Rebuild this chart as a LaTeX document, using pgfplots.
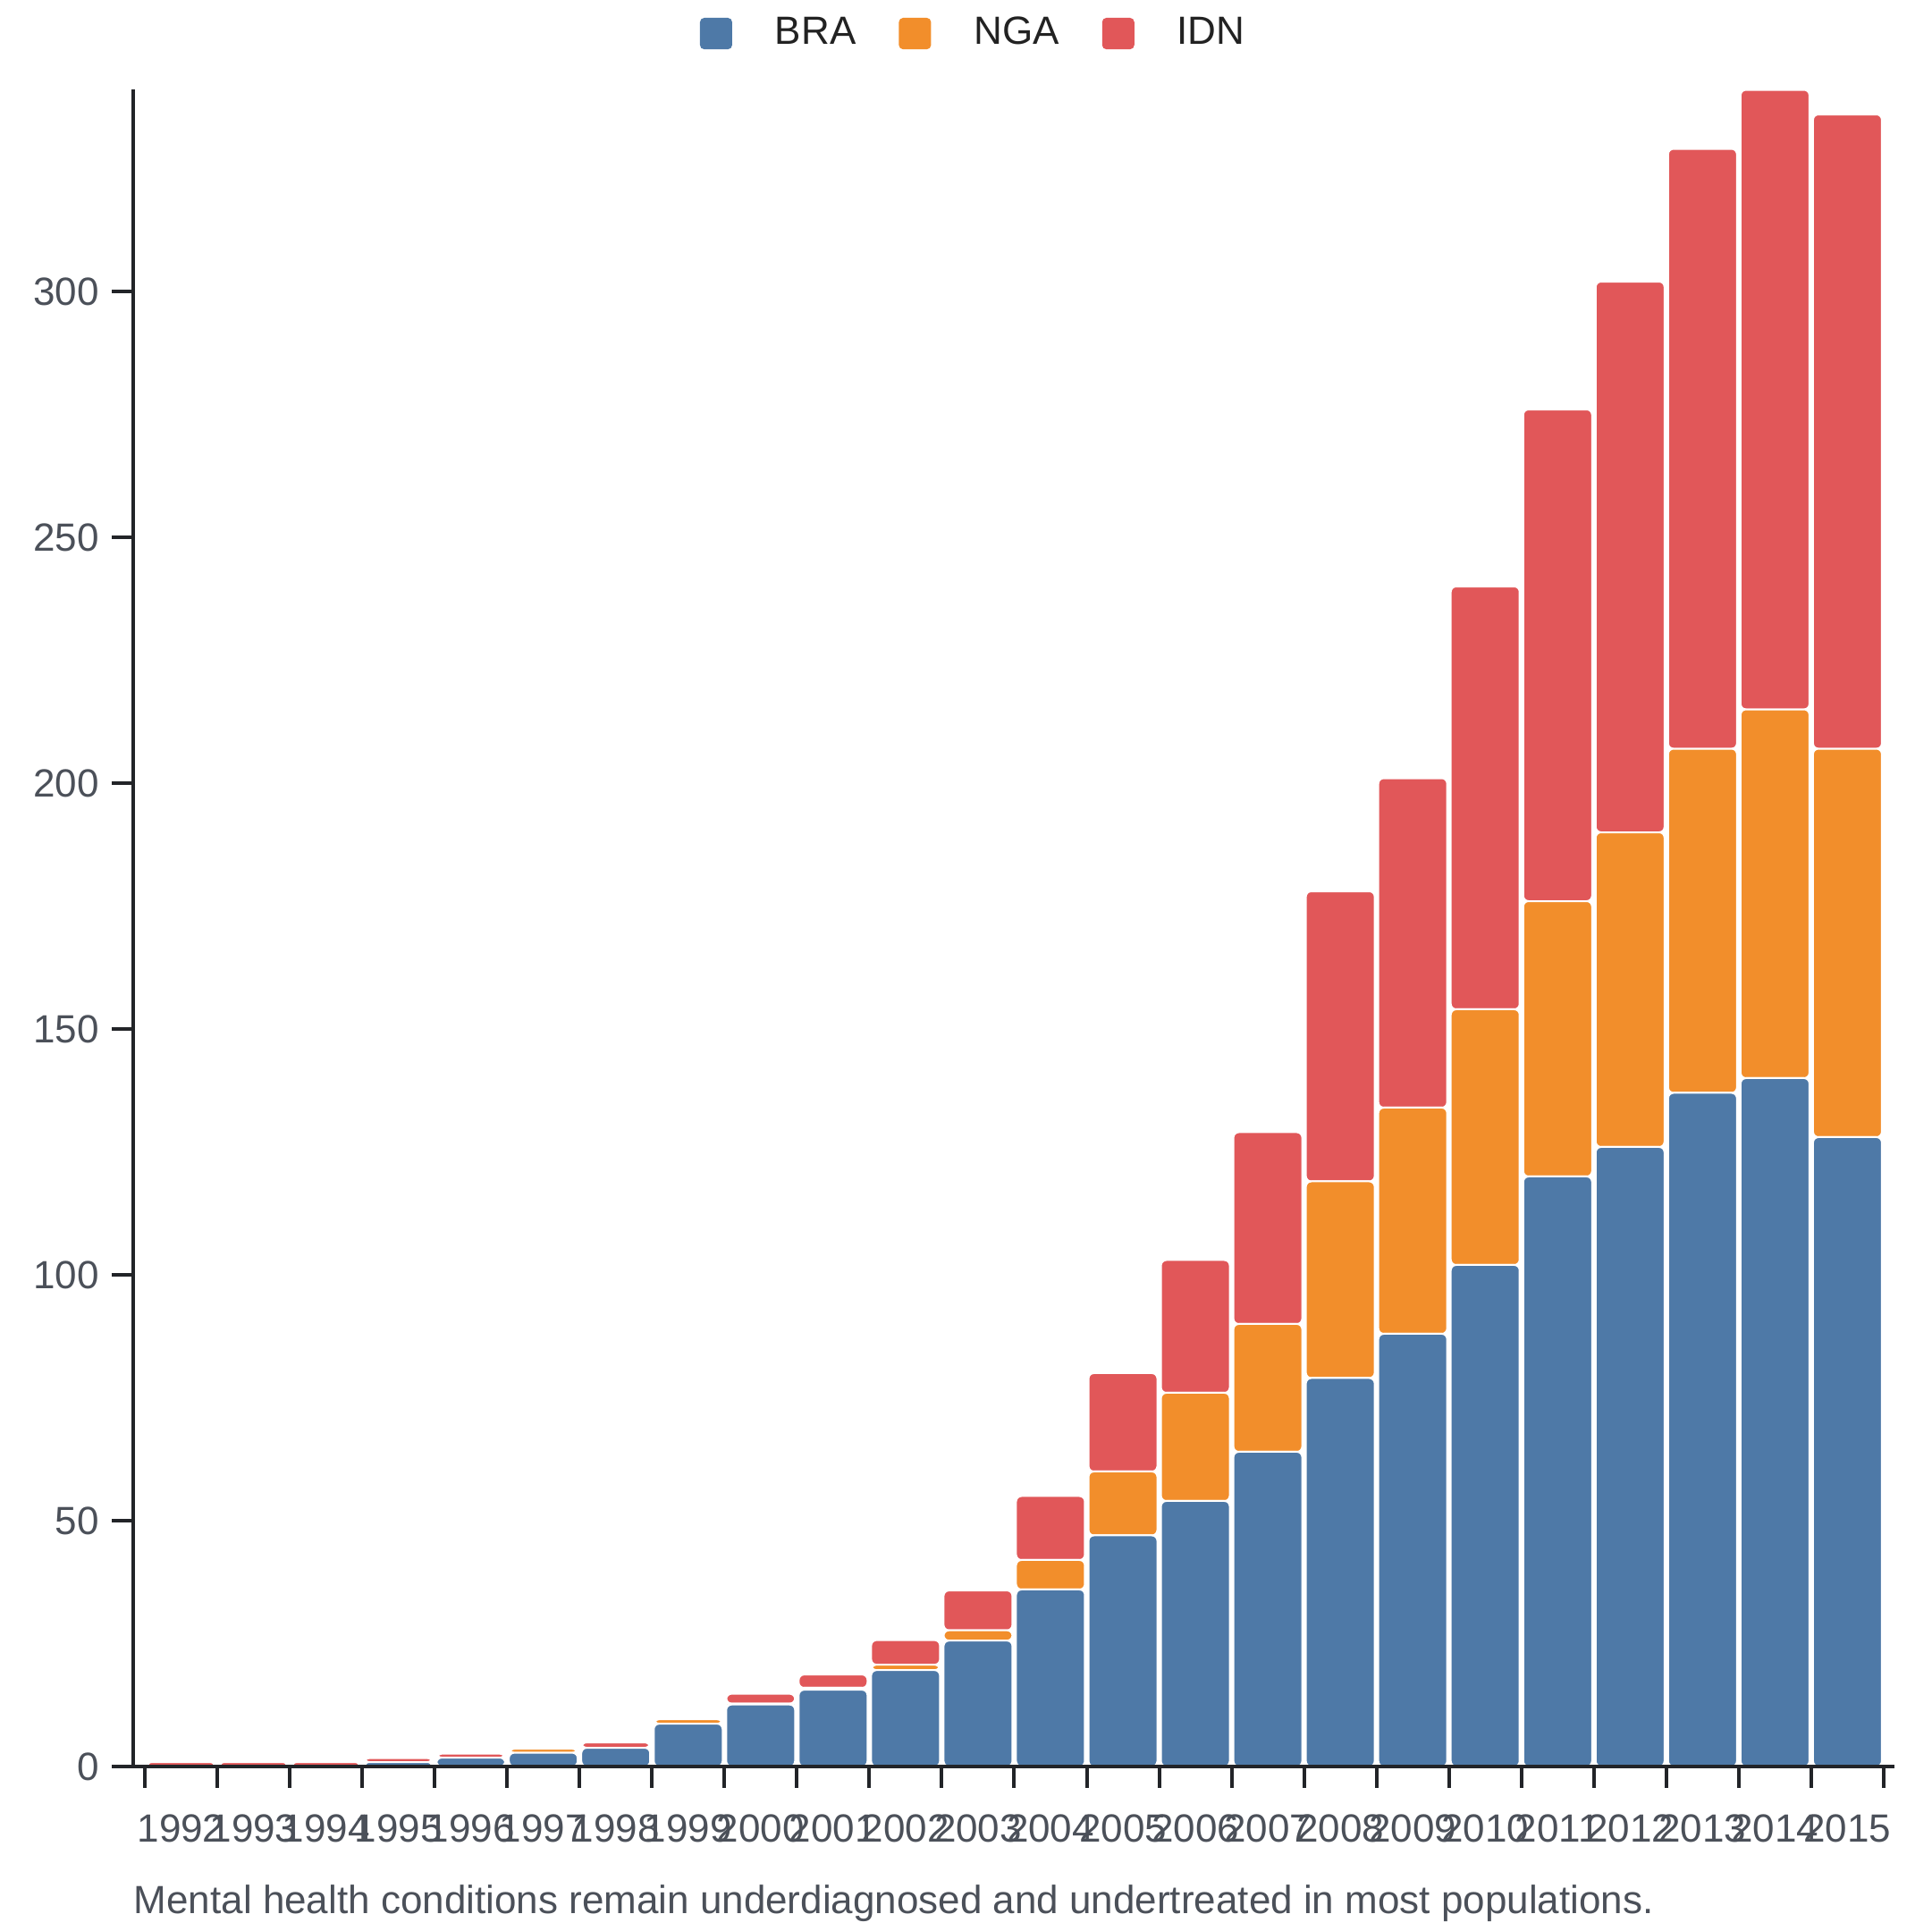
\documentclass[border=0pt]{standalone}
\usepackage{fontspec}
\setmainfont{Liberation Sans}
\usepackage{pgfplots}
\pgfplotsset{compat=1.18}
\definecolor{cBRA}{HTML}{4E79A7}
\definecolor{cNGA}{HTML}{F28E2B}
\definecolor{cIDN}{HTML}{E15759}
\definecolor{axcol}{HTML}{222428}
\definecolor{labcol}{HTML}{4B5059}
\definecolor{legcol}{HTML}{222222}
\begin{document}
\begin{tikzpicture}
\path[use as bounding box] (0,0) rectangle (540pt,540pt);
\begin{axis}[
  at={(37.25pt,46pt)}, anchor=south west,
  scale only axis, width=492.5pt, height=469pt,
  ybar stacked, bar width=0.95,
  xmin=-0.66, xmax=23.649, ymin=0, ymax=341.1,
  axis lines*=left,
  axis line style={axcol, line width=1pt},
  x axis line style={shorten <=-5.75pt},
  tick align=outside, tick pos=left,
  major tick length=6pt, minor tick length=6pt,
  every tick/.style={axcol, line width=1pt},
  ytick={0,50,...,300},
  xtick={0,...,23},
  major x tick style={draw=none},
  minor xtick={-0.5,0.5,...,23.5},
  xticklabels={1992,1993,1994,1995,1996,1997,1998,1999,2000,2001,2002,2003,2004,2005,2006,2007,2008,2009,2010,2011,2012,2013,2014,2015},
  xticklabel style={font=\fontsize{11pt}{13pt}\selectfont, text=labcol, yshift=-4pt},
  yticklabel style={font=\fontsize{11pt}{13pt}\selectfont, text=labcol},
  /pgf/number format/assume math mode=true,
  axis on top,
  every axis plot/.append style={draw=white, line width=0.5pt, rounded corners=1.5pt},
  legend columns=3,
  legend style={at={(0.3218,1)}, anchor=west, yshift=15.6pt, draw=none, fill=none,
    inner sep=0pt, outer sep=0pt,
    font=\fontsize{11pt}{13pt}\selectfont, text=legcol,
    nodes={inner sep=0pt},
    /tikz/every odd column/.style={column sep=12pt},
    /tikz/every even column/.style={column sep=12pt}},
  legend image code/.code={\path[#1, draw=none, rounded corners=1.2pt] (0pt,-4.4pt) rectangle (9pt,4.4pt);},
]
\addplot[fill=cBRA] coordinates {(0,0) (1,0) (2,0) (3,0.9) (4,1.8) (5,2.8) (6,3.8) (7,8.7) (8,12.6) (9,15.6) (10,19.6) (11,25.6) (12,36) (13,47) (14,54) (15,64) (16,79) (17,88) (18,102) (19,120) (20,126) (21,137) (22,140) (23,128)};
\addplot[fill=cNGA] coordinates {(0,0) (1,0) (2,0) (3,0) (4,0) (5,0.8) (6,0) (7,0.9) (8,0.2) (9,0.4) (10,1.1) (11,2.1) (12,6) (13,13) (14,22) (15,26) (16,40) (17,46) (18,52) (19,56) (20,64) (21,70) (22,75) (23,79)};
\addplot[fill=cIDN] coordinates {(0,0.9) (1,0.9) (2,0.9) (3,0.8) (4,0.8) (5,0) (6,1.1) (7,0) (8,2.0) (9,2.7) (10,5.0) (11,8.1) (12,13) (13,20) (14,27) (15,39) (16,59) (17,67) (18,86) (19,100) (20,112) (21,122) (22,126) (23,129)};
\legend{BRA,NGA,IDN}
\end{axis}
\node[anchor=base west, inner sep=0pt, text=labcol, font=\fontsize{11pt}{13pt}\selectfont] at (37.25pt,5pt) {Mental health conditions remain underdiagnosed and undertreated in most populations.};
\end{tikzpicture}
\end{document}
